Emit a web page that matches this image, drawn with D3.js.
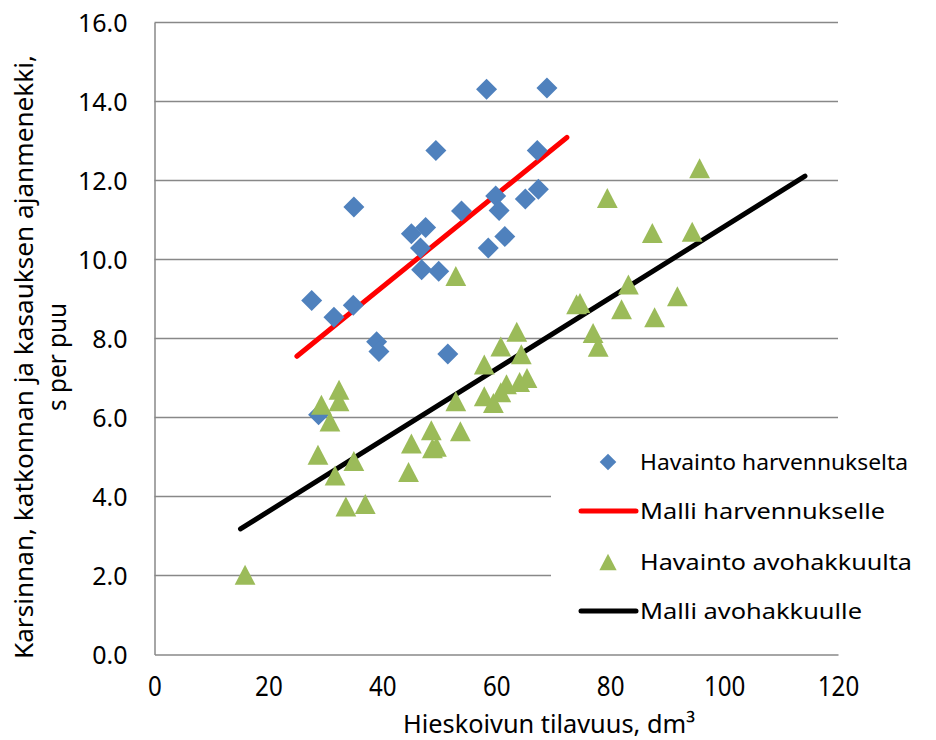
<!DOCTYPE html>
<html>
<head>
<meta charset="utf-8">
<script src="https://cdn.jsdelivr.net/npm/d3@7"></script>
<style>
  html, body { margin: 0; padding: 0; background: #fff; }
  svg { display: block; }
  text { font-family: "Noto Sans", "Open Sans", sans-serif; fill: #000; }
</style>
</head>
<body>
<svg id="chart" width="936" height="740"></svg>
<script>
// Observations from thinning sites (volume dm3, seconds per tree)
const thinX = [58.3, 68.9, 49.4, 67.2, 35.0, 59.9, 67.4, 65.1, 60.5, 53.9, 47.6, 45.1,
               46.7, 61.5, 58.6, 46.9, 49.9, 27.6, 31.5, 34.9, 39.0, 39.4, 51.5, 28.8];
const thinY = [14.31, 14.34, 12.76, 12.76, 11.33, 11.61, 11.78, 11.53, 11.24, 11.23, 10.81, 10.65,
               10.29, 10.58, 10.29, 9.74, 9.70, 8.96, 8.54, 8.84, 7.92, 7.67, 7.61, 6.07];

// Observations from clear-cut sites
const clearX = [15.9, 28.7, 29.3, 30.8, 31.7, 32.4, 32.4, 33.6, 35.0, 37.0, 44.6, 45.1,
                48.6, 48.8, 49.5, 52.9, 52.9, 53.7, 57.9, 57.9, 59.5, 60.8, 60.8, 61.8,
                63.6, 64.4, 64.1, 65.4, 74.1, 74.7, 77.0, 77.9, 79.5, 82.0, 83.2, 87.4,
                87.8, 91.8, 94.4, 95.7];
const clearY = [2.02, 5.06, 6.32, 5.90, 4.53, 6.70, 6.41, 3.75, 4.90, 3.81, 4.62, 5.34,
                5.68, 5.22, 5.26, 6.41, 9.58, 5.65, 7.34, 6.54, 6.37, 7.80, 6.64, 6.84,
                8.17, 7.60, 6.90, 7.00, 8.87, 8.90, 8.14, 7.79, 11.56, 8.74, 9.37, 10.67,
                8.54, 9.07, 10.70, 12.31];

// Fitted model lines (end points)
const thinModelX = [25.0, 72.4];
const thinModelY = [7.55, 13.09];
const clearModelX = [15.1, 114.2];
const clearModelY = [3.18, 12.11];

const xTicks = [0, 20, 40, 60, 80, 100, 120];
const yTicks = [0, 2, 4, 6, 8, 10, 12, 14, 16];

const legendLabels = ["Havainto harvennukselta", "Malli harvennukselle",
                      "Havainto avohakkuulta", "Malli avohakkuulle"];

const svg = d3.select("#chart");

const x = d3.scaleLinear().domain([0, 120]).range([154.5, 838]);
const y = d3.scaleLinear().domain([0, 16]).range([654.5, 22.5]);

const gridColor = "#888888";

// horizontal gridlines
svg.append("g").selectAll("line").data(yTicks.filter(d => d > 0)).join("line")
  .attr("x1", x(0)).attr("x2", x(120))
  .attr("y1", d => y(d)).attr("y2", d => y(d))
  .attr("stroke", gridColor).attr("stroke-width", 1.5);

// axes (no tick marks)
const yAxis = d3.axisLeft(y).tickValues(yTicks).tickFormat(d3.format(".1f")).tickSize(0).tickPadding(27);
const gy = svg.append("g").attr("transform", `translate(${x(0)},0)`).call(yAxis);
gy.select(".domain").attr("stroke", gridColor).attr("stroke-width", 1.5);
gy.selectAll("text").attr("font-size", 25).attr("font-family", "Noto Sans").attr("fill", "#000")
  .attr("dy", "0.36em");

// x tick labels use a condensed setting of the face
const xAxis = d3.axisBottom(x).tickValues(xTicks).tickFormat(d3.format("d")).tickSize(0).tickPadding(22);
const gx = svg.append("g").attr("transform", `translate(0,${y(0)})`).call(xAxis);
gx.select(".domain").attr("stroke", gridColor).attr("stroke-width", 1.5);
gx.selectAll("text").attr("font-size", 27).attr("font-family", "Noto Sans").attr("fill", "#000")
  .attr("textLength", d => String(d).length * 13.8).attr("lengthAdjust", "spacingAndGlyphs");

// model lines
const line = d3.line().x(d => x(d[0])).y(d => y(d[1]));
svg.append("path").datum(d3.zip(clearModelX, clearModelY)).attr("d", line)
  .attr("fill", "none").attr("stroke", "#000").attr("stroke-width", 5).attr("stroke-linecap", "round");
svg.append("path").datum(d3.zip(thinModelX, thinModelY)).attr("d", line)
  .attr("fill", "none").attr("stroke", "#ff0000").attr("stroke-width", 5).attr("stroke-linecap", "round");

// marker shapes
const diamond = s => `M0,${-s}L${s},0L0,${s}L${-s},0Z`;
const triangle = s => `M0,${-s}L${s * 1.04},${s}L${-s * 1.04},${s}Z`;

// thinning observations
svg.append("g").selectAll("path").data(d3.zip(thinX, thinY)).join("path")
  .attr("transform", d => `translate(${x(d[0])},${y(d[1])})`)
  .attr("d", diamond(10.5)).attr("fill", "#4f81bd");

// clear-cut observations
svg.append("g").selectAll("path").data(d3.zip(clearX, clearY)).join("path")
  .attr("transform", d => `translate(${x(d[0])},${y(d[1])})`)
  .attr("d", triangle(10)).attr("fill", "#9bbb59");

// legend
const lg = svg.append("g");
lg.append("rect").attr("x", 551).attr("y", 428).attr("width", 290).attr("height", 222).attr("fill", "#fff");
const rowY = [462, 511, 562, 611];
const textLen = [268, 245, 272, 222];
lg.append("path").attr("transform", `translate(608,${rowY[0]})`).attr("d", diamond(8.3)).attr("fill", "#4f81bd");
lg.append("line").attr("x1", 581).attr("x2", 636).attr("y1", rowY[1]).attr("y2", rowY[1])
  .attr("stroke", "#ff0000").attr("stroke-width", 5).attr("stroke-linecap", "round");
lg.append("path").attr("transform", `translate(608,${rowY[2]})`).attr("d", triangle(8.3)).attr("fill", "#9bbb59");
lg.append("line").attr("x1", 581).attr("x2", 636).attr("y1", rowY[3]).attr("y2", rowY[3])
  .attr("stroke", "#000").attr("stroke-width", 5).attr("stroke-linecap", "round");
lg.selectAll("text.lab").data(legendLabels).join("text").attr("class", "lab")
  .attr("x", 640).attr("y", (d, i) => rowY[i]).attr("dy", "0.36em")
  .attr("font-size", 22.5)
  .attr("textLength", (d, i) => textLen[i]).attr("lengthAdjust", "spacingAndGlyphs")
  .text(d => d);

// axis titles
svg.append("text").attr("x", 403).attr("y", 733).attr("font-size", 26)
  .attr("textLength", 292).attr("lengthAdjust", "spacingAndGlyphs")
  .text("Hieskoivun tilavuus, dm³");

const yt = svg.append("g").attr("transform", "translate(24,357) rotate(-90)");
yt.append("text").attr("x", 0).attr("y", 0).attr("dy", "0.36em").attr("text-anchor", "middle")
  .attr("font-size", 26).attr("textLength", 604).attr("lengthAdjust", "spacingAndGlyphs")
  .text("Karsinnan, katkonnan ja kasauksen ajanmenekki,");
yt.append("text").attr("x", 0).attr("y", 33).attr("dy", "0.36em").attr("text-anchor", "middle")
  .attr("font-size", 26).attr("textLength", 108).attr("lengthAdjust", "spacingAndGlyphs")
  .text("s per puu");
</script>
</body>
</html>
